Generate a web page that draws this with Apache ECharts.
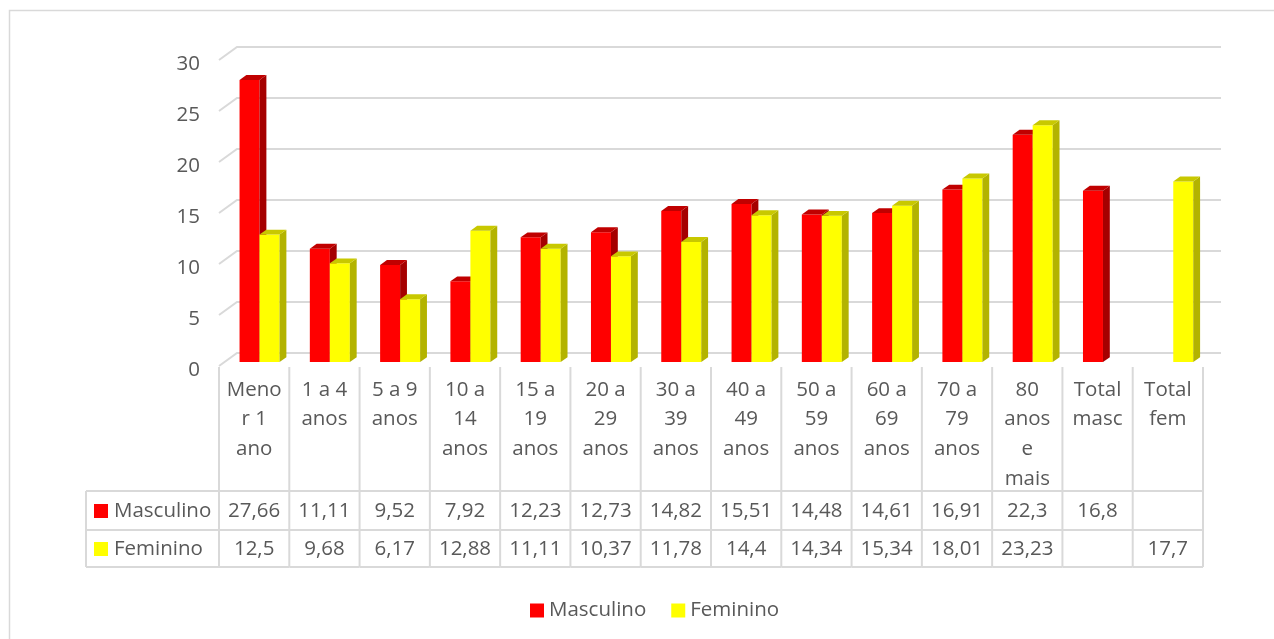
<!DOCTYPE html>
<html>
<head>
<meta charset="utf-8">
<script src="https://cdn.jsdelivr.net/npm/echarts@6/dist/echarts.min.js"></script>
<style>html,body{margin:0;padding:0;background:#fff}#main{width:1274px;height:639px}</style>
</head>
<body>
<div id="main"></div>
<script>
// dados
var categorias = ['Meno\nr 1\nano', '1 a 4\nanos', '5 a 9\nanos', '10 a\n14\nanos', '15 a\n19\nanos', '20 a\n29\nanos', '30 a\n39\nanos', '40 a\n49\nanos', '50 a\n59\nanos', '60 a\n69\nanos', '70 a\n79\nanos', '80\nanos\ne\nmais', 'Total\nmasc', 'Total\nfem'];
var masculino = [27.66, 11.11, 9.52, 7.92, 12.23, 12.73, 14.82, 15.51, 14.48, 14.61, 16.91, 22.3, 16.8, null];
var feminino = [12.5, 9.68, 6.17, 12.88, 11.11, 10.37, 11.78, 14.4, 14.34, 15.34, 18.01, 23.23, null, 17.7];
var nomesSeries = ['Masculino', 'Feminino'];
var yTicks = [0, 5, 10, 15, 20, 25, 30];

// layout / estilo
var COR_TXT = '#595959', COR_LINHA = '#d9d9d9', FONTE = 'Open Sans', FS = 20.5;
var FONT_STR = FS + 'px "Open Sans"';
var DX = 18, DY = -13;          // vetor de profundidade 3D
var D0 = 0.3, DEP = 0.38;       // posicao e profundidade das barras
var BW = 0.2845;                // largura de cada barra (em categorias)
var T_TOPO = 367, T_L1 = 491, T_L2 = 530, T_FIM = 567, T_ESQ = 86;

var chart = echarts.init(document.getElementById('main'));

function fmt(v) { return v == null ? '' : String(v).replace('.', ','); }

function dadosBarra(arr) {
    var out = [];
    arr.forEach(function (v, i) { if (v != null) out.push([i, v]); });
    return out;
}

function barra3d(cores, lado) {
    return function (params, api) {
        var i = api.value(0), v = api.value(1);
        var x0 = i + 0.5 + lado * BW;
        var p0 = api.coord([x0, 0]), p1 = api.coord([x0 + BW, v]);
        var ox = DX * D0, oy = DY * D0, dx = DX * DEP, dy = DY * DEP;
        var xl = p0[0] + ox, xr = p1[0] + ox, yb = p0[1] + oy, yt = p1[1] + oy;
        return {
            type: 'group', children: [
                { type: 'rect', shape: { x: xl, y: yt, width: xr - xl, height: yb - yt }, style: { fill: cores[0] } },
                { type: 'polygon', shape: { points: [[xr, yt], [xr + dx, yt + dy], [xr + dx, yb + dy], [xr, yb]] }, style: { fill: cores[1] } },
                { type: 'polygon', shape: { points: [[xl, yt], [xl + dx, yt + dy], [xr + dx, yt + dy], [xr, yt]] }, style: { fill: cores[2] } }
            ]
        };
    };
}

function linhaGrade(params, api) {
    var v = api.value(1);
    var p = api.coord([0, v]), q = api.coord([14, v]);
    return {
        type: 'polyline',
        shape: { points: [[p[0], p[1]], [p[0] + DX, p[1] + DY], [q[0] + DX, q[1] + DY]] },
        style: { stroke: COR_LINHA, lineWidth: 2, fill: null }
    };
}

function tabela(params, api) {
    var i = api.value(0);
    var x0 = api.coord([i, 0])[0], x1 = api.coord([i + 1, 0])[0], xc = (x0 + x1) / 2;
    var ls = { stroke: COR_LINHA, lineWidth: 2 };
    var filhos = [
        { type: 'line', shape: { x1: x0, y1: T_TOPO, x2: x0, y2: T_FIM }, style: ls },
        { type: 'line', shape: { x1: x0, y1: T_L1, x2: x1, y2: T_L1 }, style: ls },
        { type: 'line', shape: { x1: x0, y1: T_L2, x2: x1, y2: T_L2 }, style: ls },
        { type: 'line', shape: { x1: x0, y1: T_FIM, x2: x1, y2: T_FIM }, style: ls },
        { type: 'text', style: { x: xc, y: 511, text: fmt(masculino[i]), fill: COR_TXT, font: FONT_STR, align: 'center', verticalAlign: 'middle' } },
        { type: 'text', style: { x: xc, y: 549, text: fmt(feminino[i]), fill: COR_TXT, font: FONT_STR, align: 'center', verticalAlign: 'middle' } }
    ];
    if (i === categorias.length - 1) {
        filhos.push({ type: 'line', shape: { x1: x1, y1: T_TOPO, x2: x1, y2: T_FIM }, style: ls });
    }
    return { type: 'group', children: filhos };
}

var cabecalho = [
    { type: 'rect', shape: { x: 9.5, y: 10.5, width: 1300, height: 700 }, style: { fill: null, stroke: COR_LINHA, lineWidth: 1.5 }, silent: true },
    { type: 'line', shape: { x1: T_ESQ, y1: T_L1, x2: 219, y2: T_L1 }, style: { stroke: COR_LINHA, lineWidth: 2 } },
    { type: 'line', shape: { x1: T_ESQ, y1: T_L2, x2: 219, y2: T_L2 }, style: { stroke: COR_LINHA, lineWidth: 2 } },
    { type: 'line', shape: { x1: T_ESQ, y1: T_FIM, x2: 219, y2: T_FIM }, style: { stroke: COR_LINHA, lineWidth: 2 } },
    { type: 'line', shape: { x1: T_ESQ, y1: T_L1, x2: T_ESQ, y2: T_FIM }, style: { stroke: COR_LINHA, lineWidth: 2 } },
    { type: 'rect', shape: { x: 94, y: 504, width: 14, height: 14 }, style: { fill: '#ff0000' } },
    { type: 'rect', shape: { x: 94, y: 542, width: 14, height: 14 }, style: { fill: '#ffff00' } },
    { type: 'text', style: { x: 114, y: 511, text: nomesSeries[0], fill: COR_TXT, font: FONT_STR, verticalAlign: 'middle' } },
    { type: 'text', style: { x: 114, y: 549, text: nomesSeries[1], fill: COR_TXT, font: FONT_STR, verticalAlign: 'middle' } }
];

var option = {
    backgroundColor: '#fff',
    animation: false,
    textStyle: { fontFamily: FONTE },
    graphic: cabecalho,
    legend: {
        data: nomesSeries,
        left: 525, top: 595,
        icon: 'rect', itemWidth: 14, itemHeight: 14, itemGap: 25,
        textStyle: { fontSize: FS, color: COR_TXT, fontFamily: FONTE }
    },
    grid: [
        { left: 219, top: 60, width: 984, height: 306, containLabel: false },
        // grade so para os rotulos do eixo Y (levemente abaixo, como no Excel)
        { left: 219, top: 64, width: 984, height: 306, containLabel: false }
    ],
    xAxis: [{
        type: 'category',
        data: categorias,
        axisLine: { show: false },
        axisTick: { show: false },
        axisLabel: { interval: 0, margin: 9, lineHeight: 29.7, fontSize: FS, color: COR_TXT, fontFamily: FONTE }
    }, {
        type: 'value', min: 0, max: 14, show: false
    }, {
        type: 'value', gridIndex: 1, min: 0, max: 14, show: false
    }],
    yAxis: [{
        type: 'value', min: 0, max: 30, interval: 5,
        axisLine: { show: false }, axisTick: { show: false }, splitLine: { show: false },
        axisLabel: { show: false }
    }, {
        type: 'value', gridIndex: 1, min: 0, max: 30, interval: 5,
        axisLine: { show: false }, axisTick: { show: false }, splitLine: { show: false },
        axisLabel: { margin: 19, fontSize: FS, color: COR_TXT, fontFamily: FONTE }
    }],
    series: [{
        type: 'custom', name: 'grade', xAxisIndex: 1, z: 1, silent: true,
        data: yTicks.map(function (v) { return [0, v]; }),
        renderItem: linhaGrade
    }, {
        type: 'custom', name: 'tabela', xAxisIndex: 1, z: 2, silent: true,
        data: categorias.map(function (c, i) { return [i, 0]; }),
        renderItem: tabela
    }, {
        type: 'custom', name: nomesSeries[0], xAxisIndex: 1, z: 3,
        itemStyle: { color: '#ff0000' },
        data: dadosBarra(masculino),
        renderItem: barra3d(['#ff0000', '#a50000', '#c00000'], -1)
    }, {
        type: 'custom', name: nomesSeries[1], xAxisIndex: 1, z: 4,
        itemStyle: { color: '#ffff00' },
        data: dadosBarra(feminino),
        renderItem: barra3d(['#ffff00', '#b3b300', '#c8c800'], 0)
    }]
};
chart.setOption(option);
</script>
</body>
</html>
